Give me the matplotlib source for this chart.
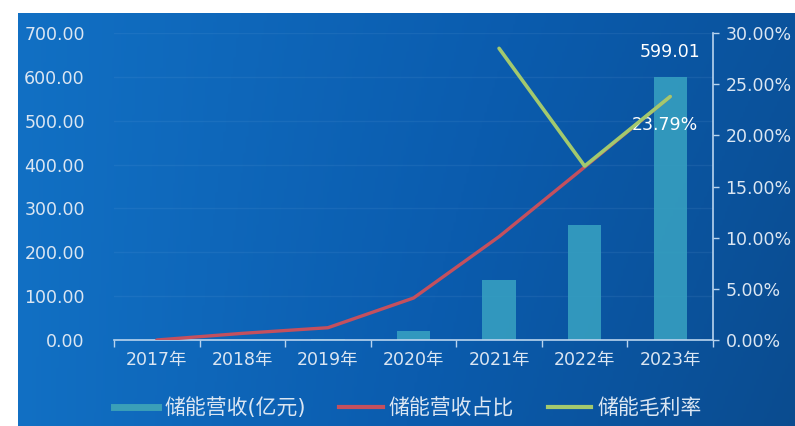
import matplotlib
matplotlib.use("Agg")
import matplotlib.pyplot as plt
import numpy as np
from matplotlib.lines import Line2D
from matplotlib.colors import LinearSegmentedColormap

plt.rcParams['font.family'] = ['DejaVu Sans', 'Noto Sans CJK SC']

years = ["2017年", "2018年", "2019年", "2020年", "2021年", "2022年", "2023年"]
revenue = [0.0, 0.5, 2.0, 20.0, 137.0, 262.0, 599.01]           # 储能营收(亿元)
share = [0.0, 0.65, 1.2, 4.1, 10.1, 16.9, 23.79]                # 储能营收占比 (%)
margin = [np.nan, np.nan, np.nan, np.nan, 28.5, 17.0, 23.79]    # 储能毛利率 (%)
left_ticks = [0, 100, 200, 300, 400, 500, 600, 700]
right_ticks = [0, 5, 10, 15, 20, 25, 30]

W, H = 795, 426
fig = plt.figure(figsize=(W / 100, H / 100), dpi=100, facecolor='white')

# gradient background
bg = fig.add_axes([18 / W, 0, 1 - 18 / W, 1 - 13 / H], zorder=-10)
bg.axis('off')
gx = np.linspace(0, 1, 300)
gy = np.linspace(0, 1, 150)
X, Y = np.meshgrid(gx, gy)
cmap = LinearSegmentedColormap.from_list('bg', ['#1272c6', '#0b5cae', '#0a4a8c'])
val = 0.7 * X + 0.2 * Y * X + 0.05
bg.imshow(val, cmap=cmap, aspect='auto', extent=[0, 1, 0, 1], vmin=0, vmax=1, origin='upper')

ax = fig.add_axes([114 / W, 1 - 340 / H, (713 - 114) / W, (340 - 33) / H])
ax.set_facecolor('none')
ax2 = ax.twinx()

x = np.arange(len(years))
txt = '#dbe6f2'
fs = 12.5
bars = ax.bar(x, revenue, width=0.39, color='#38a3c2', alpha=0.85, zorder=2)
ax.set_xlim(-0.5, len(years) - 0.5)
ax.set_ylim(0, 700)
ax.set_yticks(left_ticks)
ax.set_yticklabels([f"{v:.2f}" for v in left_ticks])
ax.set_xticks(x)
ax.set_xticklabels(years)
ax.set_xticks(np.arange(-0.5, len(years)), minor=True)
ax.tick_params(axis='x', which='major', length=0, pad=8, labelsize=fs, colors=txt)
ax.tick_params(axis='x', which='minor', length=5, direction='out', color='#b9d4ee', width=1)
ax.tick_params(axis='y', length=0, pad=21, labelsize=fs, colors=txt)
ax.grid(axis='y', color='#8ab8e6', alpha=0.1, lw=1)
ax.set_axisbelow(True)

for s in ['top', 'left', 'right']:
    ax.spines[s].set_visible(False)
ax.spines['bottom'].set_color('#b9d4ee')
ax.spines['bottom'].set_linewidth(1.2)

ax2.set_ylim(0, 30)
ax2.set_yticks(right_ticks)
ax2.set_yticklabels([f"{v:.2f}%" for v in right_ticks])
ax2.tick_params(axis='y', length=4, width=1, color='#b9d4ee', pad=5, labelsize=fs, colors=txt)
for s in ['top', 'left', 'bottom']:
    ax2.spines[s].set_visible(False)
ax2.spines['right'].set_color('#b9d4ee')
ax2.spines['right'].set_linewidth(1.2)

ax2.plot(x, share, color='#c4505e', lw=2.4, zorder=3, solid_capstyle='round')
ax2.plot(x, margin, color='#a3c96e', lw=2.6, zorder=4, solid_capstyle='round')

ax.annotate(f"{revenue[-1]:.2f}", (x[-1], revenue[-1]), xytext=(0, 12), textcoords='offset points',
            ha='center', va='bottom', color='white', fontsize=fs)
ax2.annotate(f"{margin[-1]:.2f}%", (x[-1], margin[-1]), xytext=(-4, -14), textcoords='offset points',
             ha='center', va='top', color='white', fontsize=fs)

handles = [Line2D([0], [0], color='#3a9fb8', lw=5),
           Line2D([0], [0], color='#c4505e', lw=3),
           Line2D([0], [0], color='#a3c96e', lw=3)]
labels = ["储能营收(亿元)", "储能营收占比", "储能毛利率"]
fig.legend(handles, labels, loc='center', bbox_to_anchor=(408 / W, 1 - 408 / H), ncol=3,
           frameon=False, fontsize=15, labelcolor=txt, handlelength=2.1, handletextpad=0.3,
           columnspacing=1.6)

fig.savefig('out.png', dpi=100, facecolor=fig.get_facecolor())
